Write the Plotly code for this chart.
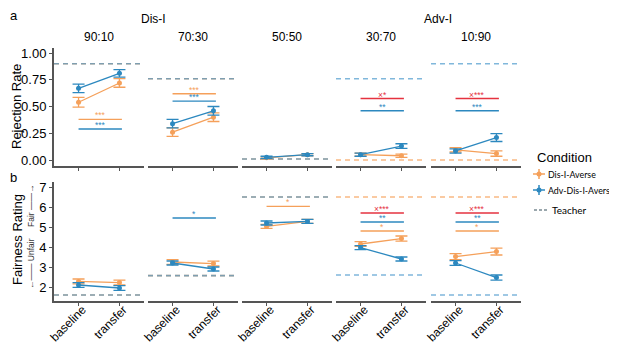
import plotly.graph_objects as go

# ---------------- data ----------------
panels = ["90:10", "70:30", "50:50", "30:70", "10:90"]
phases = ["baseline", "transfer"]
conditions = ["Dis-I-Averse", "Adv-Dis-I-Averse"]

# Rejection rate (row a)
rej_dis_base = [0.54, 0.26, 0.02, 0.05, 0.095]
rej_dis_tran = [0.72, 0.40, 0.05, 0.04, 0.06]
rej_dis_err_base = [0.045, 0.04, 0.01, 0.015, 0.02]
rej_dis_err_tran = [0.04, 0.04, 0.01, 0.015, 0.025]
rej_adv_base = [0.67, 0.34, 0.025, 0.05, 0.085]
rej_adv_tran = [0.81, 0.46, 0.05, 0.13, 0.21]
rej_adv_err_base = [0.04, 0.04, 0.01, 0.015, 0.02]
rej_adv_err_tran = [0.035, 0.04, 0.01, 0.022, 0.037]
rej_teacher_dis = [0.90, 0.76, 0.01, 0.0, 0.0]
rej_teacher_adv = [0.90, 0.76, 0.01, 0.76, 0.90]

# Fairness rating (row b)
fair_dis_base = [2.28, 3.25, 5.03, 4.15, 3.52]
fair_dis_tran = [2.22, 3.17, 5.28, 4.42, 3.77]
fair_dis_err_base = [0.12, 0.12, 0.1, 0.12, 0.15]
fair_dis_err_tran = [0.12, 0.12, 0.1, 0.13, 0.17]
fair_adv_base = [2.1, 3.2, 5.2, 3.97, 3.2]
fair_adv_tran = [1.95, 2.9, 5.28, 3.4, 2.47]
fair_adv_err_base = [0.12, 0.1, 0.1, 0.1, 0.12]
fair_adv_err_tran = [0.12, 0.1, 0.1, 0.1, 0.13]
fair_teacher_dis = [1.6, 2.57, 6.5, 6.5, 6.5]
fair_teacher_adv = [1.6, 2.57, 6.5, 2.6, 1.6]

# significance brackets: (panel index, y, label, kind)
sig_rej = [
    (0, 0.38, "***", "dis"), (0, 0.29, "***", "adv"),
    (1, 0.62, "***", "dis"), (1, 0.55, "***", "adv"),
    (3, 0.575, "×*", "int"), (3, 0.46, "**", "adv"),
    (4, 0.575, "×***", "int"), (4, 0.46, "***", "adv"),
]
sig_fair = [
    (1, 5.45, "*", "adv"),
    (2, 6.03, "*", "dis"),
    (3, 5.7, "×***", "int"), (3, 5.25, "**", "adv"), (3, 4.8, "*", "dis"),
    (4, 5.7, "×***", "int"), (4, 5.25, "**", "adv"), (4, 4.8, "*", "dis"),
]

legend_items = ["Dis-I-Averse", "Adv-Dis-I-Averse", "Teacher"]

# ---------------- style ----------------
ORANGE = "#F5A05A"
BLUE = "#2C88BF"
RED = "#E5323F"
ORANGE_T = "rgba(245,160,90,0.75)"
BLUE_T = "rgba(60,145,200,0.65)"
AXIS = "#555555"
FONT = "Liberation Sans, Arial, sans-serif"
LFONT = "Lato, Liberation Sans, sans-serif"
colors = {"dis": ORANGE, "adv": BLUE, "int": RED}

OFF = 8                      # page body margin of the html page
W, H = 617 - OFF, 344 - OFF  # figure size so it fits the window


def fx(px):
    return (px - OFF) / W


def fy(py):
    return 1 - (py - OFF) / H


panel_left = [54, 148, 242, 336, 431]
panel_w = 90
rows_px = {1: (48, 166), 2: (182, 301)}
yranges = {1: [-0.056, 1.047], 2: [1.3, 7.25]}
xrange_ = [-0.6, 1.6]

fig = go.Figure()
layout = dict(
    width=W, height=H, margin=dict(l=0, r=0, t=0, b=0, autoexpand=False),
    plot_bgcolor="white", paper_bgcolor="white",
    font=dict(family=FONT, color="black", size=12),
    showlegend=False,
)


def ax_name(row, col):
    return (row - 1) * 5 + col + 1


for row in (1, 2):
    top, bot = rows_px[row]
    for c in range(5):
        n = ax_name(row, c)
        xa = "xaxis" if n == 1 else f"xaxis{n}"
        ya = "yaxis" if n == 1 else f"yaxis{n}"
        layout[xa] = dict(
            domain=[fx(panel_left[c]), fx(panel_left[c] + panel_w)], range=xrange_,
            anchor=f"y{n}" if n > 1 else "y",
            showgrid=False, zeroline=False, showline=True, linecolor=AXIS, linewidth=2,
            ticks="outside", ticklen=3, tickcolor=AXIS, tickwidth=1,
            tickvals=[0, 1], ticktext=phases if row == 2 else ["", ""],
            showticklabels=(row == 2), tickangle=-45,
            ticklabelstandoff=-8, ticklabelshift=4,
            tickfont=dict(size=12, color="black", family=FONT),
            fixedrange=True,
        )
        ya_d = dict(
            domain=[fy(bot), fy(top)], range=yranges[row],
            anchor=f"x{n}" if n > 1 else "x",
            showgrid=False, zeroline=False,
            showline=(c == 0), linecolor=AXIS, linewidth=2,
            ticks="outside" if c == 0 else "", ticklen=3, tickcolor=AXIS,
            showticklabels=(c == 0),
            tickfont=dict(size=13, color="black", family=FONT),
            fixedrange=True,
        )
        if row == 1:
            ya_d.update(tickvals=[0, 0.25, 0.5, 0.75, 1.0],
                        ticktext=["0.00", "0.25", "0.50", "0.75", "1.00"])
        else:
            ya_d.update(tickvals=[2, 3, 4, 5, 6, 7])
        layout[ya] = ya_d

fig.update_layout(**layout)

shapes = []
annotations = []


def refs(row, c):
    n = ax_name(row, c)
    return ("x" if n == 1 else f"x{n}"), ("y" if n == 1 else f"y{n}")


# teacher lines
for row, tdis, tadv in ((1, rej_teacher_dis, rej_teacher_adv), (2, fair_teacher_dis, fair_teacher_adv)):
    for c in range(5):
        xr, yr = refs(row, c)
        for val, col in ((tdis[c], ORANGE_T), (tadv[c], BLUE_T)):
            shapes.append(dict(type="line", xref=f"{xr} domain", yref=yr,
                               x0=0, x1=1, y0=val, y1=val, layer="below",
                               line=dict(color=col, width=1.6, dash="5px,4px")))

# significance lines
for row, sigs in ((1, sig_rej), (2, sig_fair)):
    for (c, y, lab, kind) in sigs:
        xr, yr = refs(row, c)
        shapes.append(dict(type="line", xref=xr, yref=yr, x0=0, x1=1.06, y0=y, y1=y,
                           line=dict(color=colors[kind], width=1.4)))
        annotations.append(dict(xref=xr, yref=yr, x=0.53, y=y, yanchor="bottom", yshift=-3,
                                text=lab, showarrow=False,
                                font=dict(size=8.5, color=colors[kind], family=FONT)))

# data traces
series = [
    (1, "dis", rej_dis_base, rej_dis_tran, rej_dis_err_base, rej_dis_err_tran),
    (1, "adv", rej_adv_base, rej_adv_tran, rej_adv_err_base, rej_adv_err_tran),
    (2, "dis", fair_dis_base, fair_dis_tran, fair_dis_err_base, fair_dis_err_tran),
    (2, "adv", fair_adv_base, fair_adv_tran, fair_adv_err_base, fair_adv_err_tran),
]
for row, kind, base, tran, eb, et in series:
    for c in range(5):
        xr, yr = refs(row, c)
        fig.add_trace(go.Scatter(
            x=[0, 1], y=[base[c], tran[c]], xaxis=xr, yaxis=yr,
            mode="lines+markers",
            line=dict(color=colors[kind], width=1.3),
            marker=dict(color=colors[kind], size=5),
            error_y=dict(type="data", array=[eb[c], et[c]], color=colors[kind],
                         thickness=1.3, width=6),
            name=conditions[0] if kind == "dis" else conditions[1],
            hoverinfo="skip",
        ))


# titles / labels
def pa(x, y, text, size=12, angle=0, color="black", xanchor="center", yanchor="middle", family=FONT):
    annotations.append(dict(xref="paper", yref="paper", x=fx(x), y=fy(y), text=text,
                            showarrow=False, textangle=angle, xanchor=xanchor, yanchor=yanchor,
                            font=dict(size=size, color=color, family=family)))


pa(8, 6, "a", size=13, xanchor="left", yanchor="top")
pa(8, 177, "b", size=13, xanchor="left")
pa(153, 19, "Dis-I", size=12)
pa(438, 19, "Adv-I", size=12)
for c, t in enumerate(panels):
    pa(panel_left[c] + panel_w / 2, 37, t, size=12)
pa(16, 107, "Rejection Rate", size=13, angle=-90)
pa(17, 240, "Fairness Rating", size=13, angle=-90)
pa(31, 206, "Fair ——→", size=8.5, angle=-90, color="#333333")
pa(31, 264, "←—— Unfair", size=8.5, angle=-90, color="#333333")

# legend (drawn as decorations)
pa(535, 157, "Condition", size=13, xanchor="left")
leg_y = [174, 190, 210]
leg_cols = [ORANGE, BLUE]
for i in range(2):
    y = fy(leg_y[i])
    shapes.append(dict(type="line", xref="paper", yref="paper", x0=fx(533), x1=fx(545),
                       y0=y, y1=y, line=dict(color=leg_cols[i], width=1.5)))
    shapes.append(dict(type="line", xref="paper", yref="paper", x0=fx(539), x1=fx(539),
                       y0=y - 5 / H, y1=y + 5 / H, line=dict(color=leg_cols[i], width=1.5)))
    shapes.append(dict(type="circle", xref="paper", yref="paper", x0=fx(536.5), x1=fx(541.5),
                       y0=y - 2.5 / H, y1=y + 2.5 / H, fillcolor=leg_cols[i],
                       line=dict(color=leg_cols[i], width=0)))
    pa(546, leg_y[i], legend_items[i], size=8.8, xanchor="left", family=LFONT)
y = fy(leg_y[2])
shapes.append(dict(type="line", xref="paper", yref="paper", x0=fx(534), x1=fx(547),
                   y0=y, y1=y, line=dict(color="#7a8a92", width=1.5, dash="3px,2px")))
pa(550, leg_y[2], legend_items[2], size=10, xanchor="left", family=LFONT)

fig.update_layout(shapes=shapes, annotations=annotations)

fig.write_html("out.html")
